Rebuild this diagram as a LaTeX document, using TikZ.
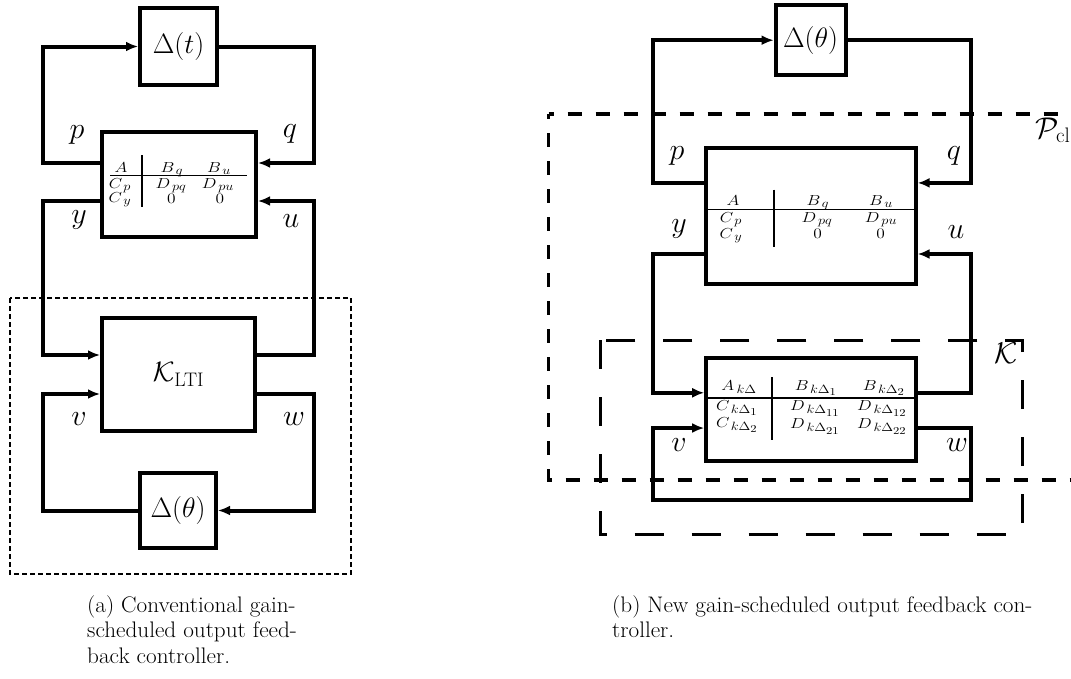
\RequirePackage{fix-cm}
\documentclass[tikz,border=0pt]{standalone}
\usepackage{graphicx}
\usetikzlibrary{arrows.meta}
\DeclareMathSizes{14.5}{14.5}{12}{10.5}
\newcommand{\wm}[1]{\scalebox{1.2}[1]{$#1$}}
\newcommand{\wc}[1]{\scalebox{1.03}[1]{#1}}
\begin{document}
\begin{tikzpicture}[x=1pt,y=-1pt]
\tikzset{
  wire/.style={line width=4pt, line join=miter},
  arr/.style={wire, -{Latex[length=12pt,width=10pt]}},
  blk/.style={draw, line width=4pt, inner sep=0pt, anchor=center},
  lab/.style={font=\fontsize{30}{36}\selectfont, inner sep=0pt, anchor=center},
  big/.style={font=\fontsize{28}{34}\selectfont},
  ent/.style={font=\fontsize{14.5}{16}\selectfont, inner sep=0pt, anchor=base},
  mline/.style={line width=1.6pt},
  captxt/.style={font=\fontsize{22.5}{26}\selectfont, inner sep=0pt, anchor=base west},
  adot/.style={line width=2pt, dash pattern=on 5pt off 3pt},
  pcl/.style={line width=3.5pt, dash pattern=on 14pt off 14pt, dash phase=9pt},
  kdash/.style={line width=3pt, dash pattern=on 29pt off 28pt},
}
\useasboundingbox (0,0) rectangle (1071,678);
\clip (0,0) rectangle (1071,678);

% ---------------- panel (a) ----------------
\node[blk, big, minimum width=77pt, minimum height=77pt] (dt) at (178.5,46.5) {$\Delta(t)$};
\node[blk, minimum width=154pt, minimum height=105pt] (pa) at (179,184.5) {};
\node[blk, big, minimum width=153pt, minimum height=113pt] (ka) at (178.5,374.5) {$\mathcal{K}_{\mathrm{LTI}}$};
\node[blk, big, minimum width=76pt, minimum height=75pt] (tha) at (178,510.5) {$\Delta(\theta)$};

\coordinate (pap) at ([yshift=21.5pt]pa.west);
\coordinate (pay) at ([yshift=-16.5pt]pa.west);
\coordinate (paq) at ([yshift=21.5pt]pa.east);
\coordinate (pau) at ([yshift=-16.5pt]pa.east);
\coordinate (kay) at ([yshift=19.5pt]ka.west);
\coordinate (kav) at ([yshift=-19.5pt]ka.west);
\coordinate (kau) at ([yshift=19.5pt]ka.east);
\coordinate (kaw) at ([yshift=-19.5pt]ka.east);
\coordinate (aL) at (43,0);
\coordinate (aR) at (314,0);

\draw[arr] (pap) -| (aL |- dt.west) -- (dt.west);
\draw[arr] (dt.east) -| (aR |- paq) -- (paq);
\draw[arr] (pay) -| (aL |- kay) -- (kay);
\draw[arr] (kau) -| (aR |- pau) -- (pau);
\draw[arr] (kaw) -| (aR |- tha.east) -- (tha.east);
\draw[arr] (tha.west) -| (aL |- kav) -- (kav);

\draw[mline] (141.7,155) -- (141.7,207);
\draw[mline] (110,175.5) -- (246.7,175.5);
\node[ent] (a11) at (121,172.5) {\wm{A}};
\node[ent] (a12) at (172,172.5) {\wm{B_{\,q}}};
\node[ent] (a13) at (219,172.5) {\wm{B_{\,u}}};
\node[ent] (a21) at (120,188.5) {\wm{C_{\,p}}};
\node[ent] (a22) at (171,188.5) {\wm{D_{\,pq}}};
\node[ent] (a23) at (218,188.5) {\wm{D_{\,pu}}};
\node[ent] (a31) at (120,202) {\wm{C_{\,y}}};
\node[ent] (a32) at (171.5,203) {\wm{0}};
\node[ent] (a33) at (220,203) {\wm{0}};

\node[lab] (lpa) at (77,135) {$p$};
\node[lab] (lqa) at (290,134) {$q$};
\node[lab] (lya) at (79,220) {$y$};
\node[lab] (lua) at (291,221) {$u$};
\node[lab] (lva) at (79,419) {$v$};
\node[lab] (lwa) at (294,419) {$w$};

\draw[adot] (10,298) rectangle (351,574);

\node[captxt] (ca1) at (87,612) {\wc{(a) Conventional gain-}};
\node[captxt] (ca2) at (87,637.5) {\wc{scheduled output feed-}};
\node[captxt] (ca3) at (87,663) {\wc{back controller.}};

% ---------------- panel (b) ----------------
\node[blk, big, minimum width=70pt, minimum height=70pt] (tb) at (810.6,40.2) {$\Delta(\theta)$};
\node[blk, minimum width=209.4pt, minimum height=135.5pt] (pb) at (810.9,216) {};
\node[blk, minimum width=210pt, minimum height=103pt] (kb) at (811.2,409.6) {};

\coordinate (pbp) at ([yshift=33.1pt]pb.west);
\coordinate (pby) at ([yshift=-38pt]pb.west);
\coordinate (pbq) at ([yshift=33.1pt]pb.east);
\coordinate (pbu) at ([yshift=-38pt]pb.east);
\coordinate (kby) at ([yshift=16.8pt]kb.west);
\coordinate (kbv) at ([yshift=-18.4pt]kb.west);
\coordinate (kbu) at ([yshift=16.8pt]kb.east);
\coordinate (kbw) at ([yshift=-18.4pt]kb.east);
\coordinate (bL) at (653.4,0);
\coordinate (bR) at (970.7,0);
\coordinate (bB) at (0,500);

\draw[arr] (pbp) -| (bL |- tb.west) -- (tb.west);
\draw[arr] (tb.east) -| (bR |- pbq) -- (pbq);
\draw[arr] (pby) -| (bL |- kby) -- (kby);
\draw[arr] (kbu) -| (bR |- pbu) -- (pbu);
\draw[arr] (kbw) -| (bR |- bB) -| (bL |- kbv) -- (kbv);

\draw[mline] (773.7,189.6) -- (773.7,247);
\draw[mline] (707.6,209.3) -- (916,209.3);
\node[ent] (b11) at (733,205) {\wm{A}};
\node[ent] (b12) at (818,205) {\wm{B_{\,q}}};
\node[ent] (b13) at (881,205) {\wm{B_{\,u}}};
\node[ent] (b21) at (731,222.5) {\wm{C_{\,p}}};
\node[ent] (b22) at (817,222.5) {\wm{D_{\,pq}}};
\node[ent] (b23) at (881,222.5) {\wm{D_{\,pu}}};
\node[ent] (b31) at (731,238) {\wm{C_{\,y}}};
\node[ent] (b32) at (817.5,238.5) {\wm{0}};
\node[ent] (b33) at (880.5,238.5) {\wm{0}};

\draw[mline] (771.7,377) -- (771.7,440);
\draw[mline] (705,397.7) -- (917,397.7);
\node[ent] (k11) at (739,390) {\wm{A_{\,k\Delta}}};
\node[ent] (k12) at (816,390) {\wm{B_{\,k\Delta_1}}};
\node[ent] (k13) at (884,390) {\wm{B_{\,k\Delta_2}}};
\node[ent] (k21) at (737,410) {\wm{C_{\,k\Delta_1}}};
\node[ent] (k22) at (815,410.5) {\wm{D_{\,k\Delta_{11}}}};
\node[ent] (k23) at (882,410.5) {\wm{D_{\,k\Delta_{12}}}};
\node[ent] (k31) at (737,427) {\wm{C_{\,k\Delta_2}}};
\node[ent] (k32) at (815,428.5) {\wm{D_{\,k\Delta_{21}}}};
\node[ent] (k33) at (882,428.5) {\wm{D_{\,k\Delta_{22}}}};

\node[lab] (lpb) at (677,156) {$p$};
\node[lab] (lqb) at (954,156) {$q$};
\node[lab] (lyb) at (679,228.6) {$y$};
\node[lab] (lub) at (956,232) {$u$};
\node[lab] (lvb) at (679,445) {$v$};
\node[lab] (lwb) at (957,445) {$w$};
\node[lab] (lK) at (1006,353) {$\mathcal{K}$};
\node[lab, anchor=west] (lP) at (1035,130) {$\mathcal{P}_{\mathrm{cl}}$};

\draw[pcl] (548.5,114) -- (1095,114);
\draw[pcl] (548.5,114) -- (548.5,479.8) -- (1095,479.8);
\draw[kdash] (600.3,340.3) rectangle (1022.6,534);

\node[captxt] (cb1) at (612,612) {\wc{(b) New gain-scheduled output feedback con-}};
\node[captxt] (cb2) at (612,637.5) {\wc{troller.}};
\end{tikzpicture}
\end{document}
